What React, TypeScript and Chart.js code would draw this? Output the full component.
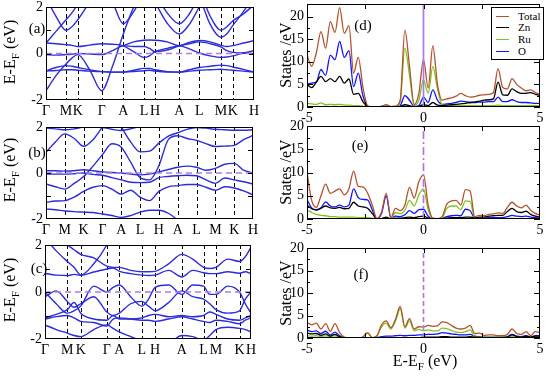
import React, { useEffect, useRef } from 'react';
import { Chart, registerables } from 'chart.js';

Chart.register(...registerables);

const FONT = '"Liberation Serif", "Times New Roman", Times, serif';
Chart.defaults.font.family = FONT;
Chart.defaults.color = '#000';

const _ = null;

// ---------------- band structure data ----------------
const SYM_LABELS = ['Γ', 'M', 'K', 'Γ', 'A', 'L', 'H', 'A', 'L', 'M', 'K', 'H'];
const FERMI = 0;
const BAND_Y_LABELS = [-2, 0, 2];
const BAND_Y_MINOR = [-1, 0, 1];

const A_SYM = [0, 20, 31.7, 55.7, 77.3, 98, 109, 133.3, 153.3, 175, 186.7, 208];
const A_K = [0, 10, 20, 25.9, 31.7, 43.7, 55.7, 66.5, 77.3, 87.7, 98, 103.5, 109, 121.2, 133.3, 143.3, 153.3, 164.2, 175, 180.9, 186.7, 197.4, 208];
const A_BANDS = [
  [-0.75, -0.73, -0.7, -0.7, -0.72, -0.76, -0.78, -0.8, -0.8, -0.78, -0.74, -0.72, -0.76, -0.8, -0.8, -0.76, -0.72, -0.7, -0.68, -0.7, -0.72, -0.76, -0.8],
  [-0.75, -0.6, -0.52, -0.55, -0.6, -0.7, -0.78, -0.8, -0.8, -0.72, -0.64, -0.64, -0.7, -0.78, -0.8, -0.7, -0.6, -0.55, -0.5, -0.52, -0.58, -0.68, -0.8],
  [-1.6, -0.95, -0.45, -0.2, -0.05, -0.7, -1.6, -0.55, 0.84, 2.0, 2.8, _, _, _, _, _, _, _, _, _, _, _, _],
  [0.45, 0.42, 0.38, 0.35, 0.3, 0.36, 0.42, 0.4, 0.33, 0.08, -0.17, -0.1, 0.08, 0.22, 0.33, 0.2, 0.02, -0.1, -0.17, -0.15, -0.1, 0.02, 0.12],
  [-0.05, -0.07, -0.05, -0.03, 0.0, -0.02, -0.05, 0.12, 0.33, 0.3, 0.3, 0.22, 0.08, 0.15, 0.33, 0.42, 0.5, 0.42, 0.28, 0.12, 0.05, 0.02, 0.0],
  [2.4, 1.6, 1.0, 1.15, 1.45, 2.2, 2.8, _, _, _, _, _, _, _, _, _, _, _, _, _, _, _, _],
  [0.45, 0.95, 1.45, 1.75, 2.1, 2.8, _, _, _, _, _, _, _, _, _, _, _, _, _, _, _, _, _],
  [_, _, _, _, _, _, 2.8, 2.2, 1.28, 1.8, 2.6, _, _, _, _, _, _, _, _, _, _, _, _],
  [_, _, _, _, _, _, _, _, 0.33, 0.5, 0.57, 0.58, 0.57, 0.5, 0.33, 0.48, 0.56, 0.5, 0.35, 0.3, 0.34, 0.45, 0.55],
  [_, _, _, _, _, _, _, _, _, _, _, _, 2.6, 1.75, 1.28, 1.7, 2.5, _, _, _, _, _, _],
  [_, _, _, _, _, _, _, _, _, _, _, _, 2.2, 1.3, 0.84, 1.25, 2.0, 2.8, _, _, _, _, _],
  [_, _, _, _, _, _, _, _, _, _, _, _, _, _, _, _, 2.8, 1.6, 1.0, 1.15, 1.4, 1.7, 2.1],
  [_, _, _, _, _, _, _, _, _, _, _, _, _, _, _, _, 2.5, 1.25, 0.7, 0.85, 1.2, 1.8, 2.5],
];

const B_SYM = [0, 1, 2, 3, 4, 5, 6, 7, 8, 9, 10, 11];
const B_K = [0, 0.5, 1, 1.5, 2, 2.5, 3, 3.5, 4, 4.5, 5, 5.5, 6, 6.5, 7, 7.5, 8, 8.5, 9, 9.5, 10, 10.5, 11];
const B_BANDS = [
  [1.95, 1.92, 1.88, 1.92, 2.0, 2.02, 1.98, 1.9, 1.85, 1.92, 2.05, 2.3, _, _, _, _, _, _, _, _, _, _, _],
  [0.9, 1.35, 1.7, 1.5, 1.16, 1.45, 2.0, 2.5, _, _, _, _, _, _, _, _, _, _, _, _, _, _, _],
  [-0.48, -0.6, -0.7, -0.45, -0.15, 0.3, 0.8, 1.27, 1.12, 0.47, -0.2, -0.3, 0.32, 1.45, 1.62, 1.5, 1.42, 1.28, 1.15, 1.17, 1.2, 1.45, 1.63],
  [_, _, _, _, _, _, _, 2.6, 2.0, 1.35, 0.92, 0.95, 1.3, 1.6, 1.75, 1.9, 1.98, 1.95, 1.9, 1.88, 1.86, 1.86, 1.88],
  [0.1, 0.1, 0.08, 0.1, 0.14, 0.1, 0.05, 0.02, 0.0, -0.05, -0.08, -0.05, 0.05, 0.15, 0.25, 0.3, 0.25, 0.12, 0.2, 0.38, 0.42, 0.12, 0.0],
  [-0.05, -0.05, -0.05, -0.03, 0.0, -0.06, -0.1, -0.2, -0.3, -0.4, -0.42, -0.4, -0.2, -0.15, -0.12, -0.1, -0.12, -0.3, -0.45, -0.22, -0.3, -0.38, -0.48],
  [-1.28, -1.22, -1.2, -1.05, -0.8, -0.62, -0.55, -0.7, -0.92, -0.75, -1.05, -1.2, -0.8, -0.6, -0.55, -0.5, -0.5, -0.62, -0.75, -0.6, -0.65, -0.78, -0.95],
  [-1.57, -1.6, -1.65, -1.68, -1.7, -1.72, -1.78, -1.85, -1.93, -1.85, -1.7, -1.62, -1.62, -1.75, -2.05, -2.4, _, _, _, _, _, _, _],
];

const C_SYM = [0, 22.3, 35.7, 61.7, 74.3, 96.7, 110, 136.7, 158.3, 170.7, 194.3, 205.7];
const C_K = [0, 11.2, 22.3, 29, 35.7, 48.7, 61.7, 68, 74.3, 85.5, 96.7, 103.4, 110, 123.4, 136.7, 147.5, 158.3, 164.5, 170.7, 182.5, 194.3, 200, 205.7];
const C_BANDS = [
  [2.3, 1.75, 1.3, 1.05, 0.72, 1.2, 2.0, 2.6, _, _, _, _, _, _, _, _, _, _, _, _, _, _, _],
  [0.79, 0.72, 0.7, 0.75, 0.71, 0.85, 0.98, 1.02, 0.88, 0.78, 0.72, 0.7, 0.72, 0.92, 0.64, 0.92, 0.82, 0.78, 0.78, 0.86, 0.8, 0.86, 0.78],
  [2.6, 2.3, 2.0, 1.8, 1.6, 1.45, 1.1, 1.05, 1.05, 0.92, 0.86, 0.86, 0.88, 1.2, 1.6, 1.4, 1.05, 1.0, 1.05, 1.4, 1.3, 1.5, 1.9],
  [0.0, -0.5, -0.9, -0.8, -0.6, 0.25, 0.0, 0.2, 0.3, -0.2, -0.6, -0.3, 0.2, 0.3, -0.1, 0.3, 0.25, -0.1, -0.1, 0.25, 0.0, -0.5, -0.9],
  [-0.2, 0.05, -0.4, -0.65, -0.5, -0.2, -0.85, -1.0, -0.9, -0.5, -0.4, -0.6, -0.8, -0.45, 0.05, -0.2, -0.3, -0.5, -0.75, -0.9, -0.8, -0.3, 0.0],
  [-1.1, -0.95, -0.75, -0.45, -0.9, -1.15, -1.2, -1.0, -1.15, -1.15, -1.1, -1.0, -0.95, -1.05, -1.0, -1.05, -1.0, -0.85, -0.95, -1.15, -1.2, -1.1, -1.0],
  [-1.15, -1.05, -1.0, -1.1, -1.25, -1.3, -1.45, -1.15, -1.1, -1.15, -1.2, -1.2, -1.25, -1.15, -1.05, -1.15, -1.25, -1.3, -1.2, -1.25, -1.35, -1.2, -1.1],
  [-1.4, -1.6, -1.75, -1.85, -1.9, -1.6, -1.4, -1.55, -1.7, -1.9, -2.1, -2.3, -2.4, -2.2, -1.85, -1.9, -2.05, -1.85, -1.6, -1.5, -1.55, -1.6, -1.7],
];

// ---------------- DOS data ----------------
const DOS_E = [-5, -4.8, -4.6, -4.4, -4.2, -4, -3.8, -3.6, -3.4, -3.2, -3, -2.8, -2.6, -2.4, -2.2, -2, -1.8, -1.6, -1.4, -1.2, -1, -0.8, -0.6, -0.4, -0.2, 0, 0.2, 0.4, 0.6, 0.8, 1, 1.2, 1.4, 1.6, 1.8, 2, 2.2, 2.4, 2.6, 2.8, 3, 3.2, 3.4, 3.6, 3.8, 4, 4.2, 4.4, 4.6, 4.8, 5];
const DOS_X_LABELS = [-5, 0, 5];
const DOS_X_MINOR = [-2.5, 0, 2.5];
const DOS_Y_LABELS = [0, 5, 10, 15, 20];
const DOS_Y_MINOR = [2.5, 7.5, 12.5, 17.5];
const SERIES_NAMES = ['Total', 'Zn', 'Ru', 'O'];

const D_TOTAL = [11.5, 9.0, 12.0, 16.7, 13.0, 18.9, 16.5, 22.0, 16.3, 18.0, 7.5, 11.0, 4.4, 0.3, 0, 0, 0.2, 0.5, 0.1, 0.2, 1.5, 17.0, 9.0, 0.5, 3.0, 10.5, 4.2, 13.5, 5.0, 1.5, 1.8, 2.0, 2.4, 3.0, 2.5, 2.2, 2.3, 2.6, 2.7, 2.8, 3.2, 8.5, 4.3, 4.0, 6.3, 5.0, 4.2, 3.6, 3.8, 3.2, 2.8];
const D_ZN = [5.0, 4.3, 5.5, 6.8, 5.6, 6.3, 5.6, 6.8, 5.3, 6.2, 2.8, 3.0, 1.2, 0.1, 0, 0, 0, 0.1, 0, 0, 0.1, 0.5, 0.3, 0, 0.1, 0.5, 0.3, 1.0, 0.4, 0.3, 0.4, 0.5, 0.6, 0.7, 0.8, 1.0, 1.1, 1.3, 1.5, 1.6, 1.8, 5.5, 2.7, 2.6, 4.0, 3.4, 3.0, 3.0, 3.2, 2.8, 2.6];
const D_RU = [0.8, 0.7, 0.6, 0.9, 0.5, 0.6, 0.5, 0.6, 0.4, 0.4, 0.3, 0.3, 0.2, 0, 0, 0, 0, 0.1, 0, 0, 1.2, 13.0, 7.0, 0.3, 1.5, 6.0, 3.0, 9.0, 4.0, 0.5, 0.3, 0.3, 0.3, 0.3, 0.3, 0.3, 0.3, 0.3, 0.3, 0.3, 0.3, 0.4, 0.3, 0.3, 0.3, 0.3, 0.3, 0.3, 0.3, 0.3, 0.3];
const D_O = [5.0, 5.3, 5.5, 8.3, 7.0, 11.5, 10.5, 14.5, 11.0, 12.5, 4.5, 7.5, 2.5, 0.2, 0, 0, 0, 0.2, 0, 0, 0.3, 2.5, 1.5, 0.1, 0.3, 2.2, 1.0, 3.8, 1.5, 0.6, 0.7, 0.8, 1.0, 1.3, 1.2, 1.0, 1.0, 1.1, 1.1, 1.2, 1.2, 2.2, 1.2, 1.2, 1.6, 1.2, 1.0, 1.0, 0.9, 0.8, 0.8];

const E_TOTAL = [10.0, 4.0, 2.5, 5.0, 7.5, 5.5, 6.0, 6.5, 5.2, 6.5, 10.3, 7.0, 6.9, 5.6, 3.0, 0.1, 1.5, 5.5, 0.3, 2.3, 1.8, 3.0, 6.8, 4.5, 8.0, 9.5, 3.0, 0.2, 0.1, 0.5, 3.2, 3.9, 4.0, 3.0, 6.3, 6.0, 0.5, 0.8, 0.7, 1.0, 1.1, 1.3, 1.2, 2.5, 3.6, 2.8, 2.4, 3.0, 1.9, 1.2, 0.8];
const E_ZN = [3.0, 2.2, 1.9, 2.3, 2.8, 2.4, 2.3, 2.5, 2.2, 2.3, 3.6, 2.8, 2.6, 2.3, 1.2, 0, 0.1, 0.4, 0, 0.2, 0.2, 0.3, 0.4, 0.3, 0.5, 0.6, 0.2, 0, 0, 0.1, 0.2, 0.3, 0.3, 0.3, 0.4, 0.4, 0.2, 0.4, 0.4, 0.6, 0.7, 0.8, 0.8, 1.6, 2.3, 1.6, 1.4, 1.7, 1.0, 0.6, 0.4];
const E_RU = [2.0, 1.4, 1.0, 0.8, 0.7, 0.5, 0.5, 0.4, 0.4, 0.4, 0.4, 0.3, 0.3, 0.3, 0.2, 0, 0.1, 0.3, 0.1, 1.4, 1.1, 1.9, 4.0, 2.8, 5.2, 6.5, 2.0, 0.1, 0, 0.2, 2.3, 2.8, 2.8, 2.0, 3.9, 3.8, 0.2, 0.1, 0.1, 0.1, 0.1, 0.1, 0.1, 0.1, 0.2, 0.1, 0.1, 0.1, 0.1, 0.1, 0.1];
const E_O = [4.2, 2.4, 2.0, 2.4, 3.7, 2.8, 2.6, 3.0, 2.6, 3.0, 6.5, 4.6, 4.2, 4.1, 2.0, 0, 1.2, 5.0, 0.2, 0.6, 0.5, 0.9, 1.8, 1.2, 2.0, 2.1, 0.6, 0, 0, 0.1, 0.5, 0.7, 0.8, 0.7, 2.1, 1.8, 0.2, 0.2, 0.2, 0.3, 0.3, 0.3, 0.3, 0.5, 0.8, 0.6, 0.5, 0.6, 0.4, 0.3, 0.2];

const F_TOTAL = [3.5, 2.9, 3.3, 2.0, 3.2, 1.5, 3.2, 1.2, 0.2, 0, 0, 0, 0.2, 1.2, 0.1, 0.5, 2.9, 3.8, 2.3, 4.2, 7.0, 2.5, 4.3, 2.0, 2.5, 2.4, 2.8, 2.6, 2.7, 3.6, 3.4, 2.8, 2.2, 2.0, 2.2, 2.8, 1.0, 1.1, 0.6, 0.7, 0.7, 0.5, 0.5, 0.8, 2.0, 1.0, 0.8, 1.4, 0.5, 1.4, 1.2];
const F_ZN = [1.1, 0.9, 1.0, 0.6, 0.9, 0.4, 0.8, 0.3, 0.1, 0, 0, 0, 0, 0.1, 0, 0, 0.1, 0.1, 0.1, 0.1, 0.1, 0.1, 0.1, 0.1, 0.1, 0.2, 0.2, 0.2, 0.2, 0.3, 0.3, 0.2, 0.2, 0.2, 0.2, 0.3, 0.2, 0.2, 0.1, 0.1, 0.1, 0.1, 0.1, 0.2, 0.7, 0.3, 0.2, 0.4, 0.2, 0.4, 0.4];
const F_RU = [0.5, 0.4, 0.5, 0.3, 0.5, 0.3, 0.5, 0.3, 0.1, 0, 0, 0, 0.2, 1.1, 0.1, 0.4, 2.5, 3.3, 2.0, 3.8, 6.5, 2.2, 3.8, 1.6, 1.9, 1.6, 1.8, 1.6, 1.6, 2.2, 2.1, 1.7, 1.3, 1.2, 1.4, 1.8, 0.3, 0.3, 0.2, 0.2, 0.2, 0.2, 0.2, 0.2, 0.3, 0.2, 0.2, 0.2, 0.1, 0.2, 0.2];
const F_O = [1.8, 1.4, 1.6, 1.0, 1.5, 0.7, 1.3, 0.5, 0.1, 0, 0, 0, 0, 0.1, 0, 0.1, 0.3, 0.4, 0.4, 0.5, 0.6, 0.5, 0.6, 0.6, 0.7, 0.7, 0.8, 0.8, 0.9, 1.2, 1.1, 0.9, 0.8, 0.7, 0.7, 0.8, 0.4, 0.3, 0.2, 0.2, 0.2, 0.2, 0.2, 0.3, 0.8, 0.4, 0.3, 0.5, 0.2, 0.5, 0.5];

// ---------------- styles ----------------
const BAND_COLOR = '#2c2cdc';
const FERMI_BAND_COLOR = '#b07ce6';
const FERMI_DOS_COLOR = '#a77bf0';
const SERIES_COLORS = ['#b4532b', '#000000', '#7cc520', '#1212ff'];

type FrameCfg = {
  kLines?: number[];
  yTicks: [number, number][];
  xTicks: [number, number][];
};

function makeFrame(cfg: FrameCfg) {
  return {
    id: 'frame',
    beforeDatasetsDraw(chart: any) {
      const { ctx, chartArea: a, scales } = chart;
      if (cfg.kLines) {
        ctx.save();
        ctx.strokeStyle = '#000';
        ctx.lineWidth = 1;
        ctx.setLineDash([4, 3]);
        for (const k of cfg.kLines) {
          const x = Math.round(scales.x.getPixelForValue(k)) + 0.5;
          ctx.beginPath();
          ctx.moveTo(x, a.top);
          ctx.lineTo(x, a.bottom);
          ctx.stroke();
        }
        ctx.restore();
      }
    },
    afterDraw(chart: any) {
      const { ctx, chartArea: a, scales } = chart;
      ctx.save();
      ctx.strokeStyle = '#000';
      ctx.lineWidth = 1;
      ctx.setLineDash([]);
      ctx.strokeRect(Math.round(a.left) + 0.5, Math.round(a.top) + 0.5, Math.round(a.right - a.left) - 1, Math.round(a.bottom - a.top) - 1);
      ctx.beginPath();
      for (const [v, len] of cfg.yTicks) {
        const y = Math.round(scales.y.getPixelForValue(v)) + 0.5;
        ctx.moveTo(a.left, y); ctx.lineTo(a.left + len, y);
        ctx.moveTo(a.right, y); ctx.lineTo(a.right - len, y);
      }
      for (const [v, len] of cfg.xTicks) {
        const x = Math.round(scales.x.getPixelForValue(v)) + 0.5;
        ctx.moveTo(x, a.bottom); ctx.lineTo(x, a.bottom - len);
        ctx.moveTo(x, a.top); ctx.lineTo(x, a.top + len);
      }
      ctx.stroke();
      ctx.restore();
    },
  };
}

type BandPanel = { k: number[]; sym: number[]; bands: (number | null)[][]; yW: number; xH: number; padR: number; padT: number };

function bandConfig(p: BandPanel): any {
  const last = p.sym[p.sym.length - 1];
  const datasets: any[] = [
    {
      data: [{ x: p.sym[0], y: FERMI }, { x: last, y: FERMI }],
      borderColor: FERMI_BAND_COLOR, borderWidth: 1.6, borderDash: [6, 4], pointRadius: 0, tension: 0,
    },
  ];
  for (const b of p.bands) {
    datasets.push({
      data: p.k.map((k, i) => ({ x: k, y: b[i] })),
      borderColor: BAND_COLOR, borderWidth: 1.4, pointRadius: 0,
      cubicInterpolationMode: 'monotone', spanGaps: false, capBezierPoints: false,
    });
  }
  return {
    type: 'line',
    data: { datasets },
    options: {
      responsive: false, animation: false, events: [],
      layout: { padding: { left: 0, right: p.padR, top: p.padT, bottom: 0 } },
      plugins: { legend: { display: false }, tooltip: { enabled: false } },
      scales: {
        x: {
          type: 'linear', min: p.sym[0], max: last,
          afterBuildTicks: (s: any) => { s.ticks = p.sym.map((v) => ({ value: v })); },
          ticks: { autoSkip: false, maxRotation: 0, minRotation: 0, padding: 3, color: '#000', font: { family: FONT, size: 14 }, callback: (_v: any, i: number) => SYM_LABELS[i] },
          grid: { display: false, drawTicks: false }, border: { display: false },
          afterFit: (s: any) => { s.height = p.xH; s.paddingLeft = 0; s.paddingRight = 0; },
        },
        y: {
          type: 'linear', min: -2, max: 2,
          afterBuildTicks: (s: any) => { s.ticks = BAND_Y_LABELS.map((v) => ({ value: v })); },
          ticks: { padding: 3, color: '#000', font: { family: FONT, size: 14 }, callback: (v: any) => String(v) },
          grid: { display: false, drawTicks: false }, border: { display: false },
          afterFit: (s: any) => { s.width = p.yW; s.paddingTop = 0; s.paddingBottom = 0; },
        },
      },
    },
    plugins: [makeFrame({ kLines: p.sym.slice(1, -1), yTicks: BAND_Y_MINOR.map((v) => [v, 5] as [number, number]), xTicks: [] })],
  };
}

type DosPanel = { series: number[][]; ymax: number; dash: number[]; xH: number; padT: number };

function dosConfig(p: DosPanel): any {
  const datasets: any[] = [
    {
      data: [{ x: FERMI, y: 0 }, { x: FERMI, y: p.ymax }],
      borderColor: FERMI_DOS_COLOR, borderWidth: 1.7, borderDash: p.dash, pointRadius: 0, tension: 0,
    },
  ];
  p.series.forEach((vals, si) => {
    datasets.push({
      data: DOS_E.map((e, i) => ({ x: e, y: vals[i] })),
      borderColor: SERIES_COLORS[si], borderWidth: 1.3, pointRadius: 0,
      cubicInterpolationMode: 'monotone',
    });
  });
  const yt: [number, number][] = [
    ...DOS_Y_LABELS.map((v) => [v, 6] as [number, number]),
    ...DOS_Y_MINOR.map((v) => [v, 3] as [number, number]),
  ];
  return {
    type: 'line',
    data: { datasets },
    options: {
      responsive: false, animation: false, events: [],
      layout: { padding: { left: 0, right: 10, top: p.padT, bottom: 0 } },
      plugins: { legend: { display: false }, tooltip: { enabled: false } },
      scales: {
        x: {
          type: 'linear', min: -5, max: 5,
          afterBuildTicks: (s: any) => { s.ticks = DOS_X_LABELS.map((v) => ({ value: v })); },
          ticks: { autoSkip: false, maxRotation: 0, minRotation: 0, padding: 3, color: '#000', font: { family: FONT, size: 14 }, callback: (v: any) => String(v) },
          grid: { display: false, drawTicks: false }, border: { display: false },
          afterFit: (s: any) => { s.height = p.xH; s.paddingLeft = 0; s.paddingRight = 0; },
        },
        y: {
          type: 'linear', min: 0, max: p.ymax,
          afterBuildTicks: (s: any) => { s.ticks = DOS_Y_LABELS.map((v) => ({ value: v })); },
          ticks: { padding: 3, color: '#000', font: { family: FONT, size: 14 }, callback: (v: any) => String(v) },
          grid: { display: false, drawTicks: false }, border: { display: false },
          afterFit: (s: any) => { s.width = 31; s.paddingTop = 0; s.paddingBottom = 0; },
        },
      },
    },
    plugins: [makeFrame({ yTicks: yt, xTicks: DOS_X_MINOR.map((v) => [v, 5] as [number, number]) })],
  };
}

const makeA = () => bandConfig({ k: A_K, sym: A_SYM, bands: A_BANDS, yW: 32, xH: 16, padR: 6, padT: 7 });
const makeB = () => bandConfig({ k: B_K, sym: B_SYM, bands: B_BANDS, yW: 32, xH: 16, padR: 6, padT: 9 });
const makeC = () => bandConfig({ k: C_K, sym: C_SYM, bands: C_BANDS, yW: 31, xH: 17, padR: 6, padT: 7 });
const makeD = () => dosConfig({ series: [D_TOTAL, D_ZN, D_RU, D_O], ymax: 22.8, dash: [], xH: 17, padT: 4 });
const makeE = () => dosConfig({ series: [E_TOTAL, E_ZN, E_RU, E_O], ymax: 20, dash: [8, 3, 2, 3], xH: 21, padT: 6 });
const makeF = () => dosConfig({ series: [F_TOTAL, F_ZN, F_RU, F_O], ymax: 20, dash: [5, 3], xH: 26, padT: 8 });

function ChartBox({ left, top, width, height, make }: { left: number; top: number; width: number; height: number; make: () => any }) {
  const ref = useRef<HTMLCanvasElement | null>(null);
  useEffect(() => {
    if (!ref.current) return;
    const chart = new Chart(ref.current, make());
    return () => chart.destroy();
  }, [make]);
  return <canvas ref={ref} width={width} height={height} style={{ position: 'absolute', left, top, width, height }} />;
}

function Txt({ x, y, size = 15, rotate = false, children }: { x: number; y: number; size?: number; rotate?: boolean; children: React.ReactNode }) {
  return (
    <div style={{
      position: 'absolute', left: x, top: y, whiteSpace: 'nowrap', fontFamily: FONT, fontSize: size, color: '#000', lineHeight: 1,
      transform: rotate ? 'translate(-50%,-50%) rotate(-90deg)' : 'translate(-50%,-50%)',
    }}>{children}</div>
  );
}

const EEF = <span>E-E<sub style={{ fontSize: '0.7em' }}>F</sub> (eV)</span>;

export default function App() {
  return (
    <div style={{ position: 'fixed', left: 0, top: 0, width: 550, height: 378, background: '#fff', overflow: 'hidden', color: '#000' }}>
      <ChartBox left={14} top={0} width={246} height={116} make={makeA} />
      <ChartBox left={14} top={118} width={245} height={117} make={makeB} />
      <ChartBox left={14} top={238} width={243} height={118} make={makeC} />
      <ChartBox left={276} top={0} width={274} height={124} make={makeD} />
      <ChartBox left={276} top={120} width={274} height={120} make={makeE} />
      <ChartBox left={276} top={240} width={274} height={124} make={makeF} />

      <Txt x={12} y={52} size={16} rotate>{EEF}</Txt>
      <Txt x={12} y={170} size={16} rotate>{EEF}</Txt>
      <Txt x={12} y={290} size={16} rotate>{EEF}</Txt>
      <Txt x={286} y={55} size={16} rotate>States /eV</Txt>
      <Txt x={286} y={172} size={16} rotate>States /eV</Txt>
      <Txt x={286} y={293} size={16} rotate>States /eV</Txt>
      <Txt x={425} y={363} size={16}>{EEF}</Txt>

      <Txt x={37} y={28}>(a)</Txt>
      <Txt x={37} y={152}>(b)</Txt>
      <Txt x={39} y={268}>(c)</Txt>
      <Txt x={363} y={25}>(d)</Txt>
      <Txt x={360} y={145}>(e)</Txt>
      <Txt x={361} y={274}>(f)</Txt>

      <div style={{ position: 'absolute', left: 491, top: 7, width: 51, height: 51, border: '1px solid #000', background: '#fff' }}>
        {SERIES_NAMES.map((name, i) => (
          <div key={name} style={{ position: 'absolute', left: 4, top: 2 + i * 11.7, height: 12, display: 'flex', alignItems: 'center', fontFamily: FONT, fontSize: 11, lineHeight: 1, color: '#000' }}>
            <span style={{ display: 'inline-block', width: 13, height: 0, borderTop: `1.5px solid ${SERIES_COLORS[i]}`, marginRight: 9 }} />
            <span style={{ color: '#000' }}>{name}</span>
          </div>
        ))}
      </div>
    </div>
  );
}
